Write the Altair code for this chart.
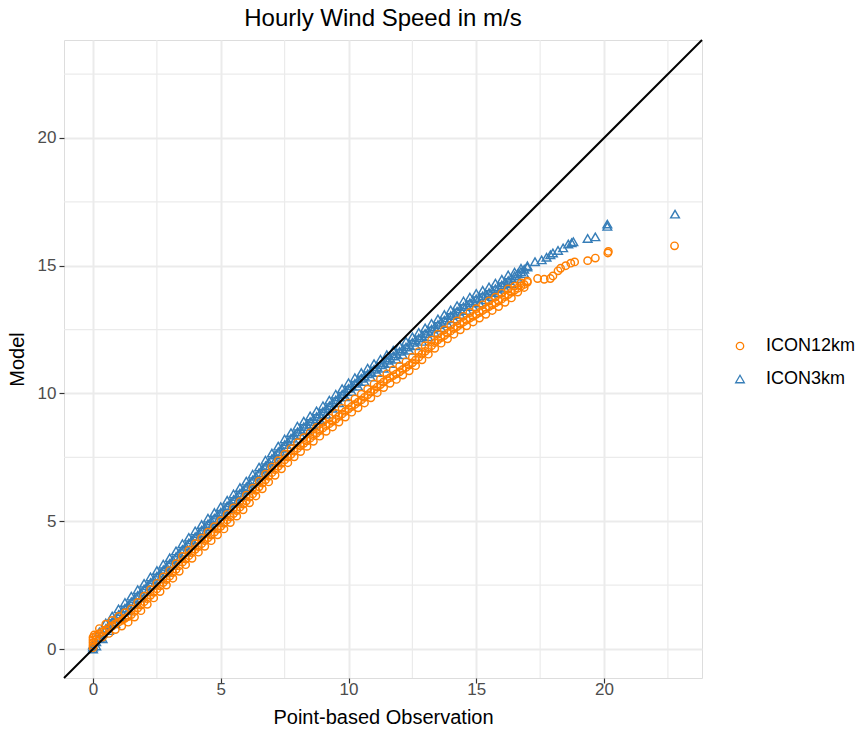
import altair as alt
import pandas as pd

# ---- data (quantile pairs) ----
series_names = ["ICON12km", "ICON3km"]

# observation grid of the dense part of the band (shared by both series)
obs_band = [0.125, 0.25, 0.375, 0.5, 0.625, 0.75, 0.875, 1.0,
            1.125, 1.25, 1.375, 1.5, 1.625, 1.75, 1.875, 2.0,
            2.125, 2.25, 2.375, 2.5, 2.625, 2.75, 2.875, 3.0,
            3.125, 3.25, 3.375, 3.5, 3.625, 3.75, 3.875, 4.0,
            4.125, 4.25, 4.375, 4.5, 4.625, 4.75, 4.875, 5.0,
            5.125, 5.25, 5.375, 5.5, 5.625, 5.75, 5.875, 6.0,
            6.125, 6.25, 6.375, 6.5, 6.625, 6.75, 6.875, 7.0,
            7.125, 7.25, 7.375, 7.5, 7.625, 7.75, 7.875, 8.0,
            8.125, 8.25, 8.375, 8.5, 8.625, 8.75, 8.875, 9.0,
            9.125, 9.25, 9.375, 9.5, 9.625, 9.75, 9.875, 10.0,
            10.125, 10.25, 10.375, 10.5, 10.625, 10.75, 10.875, 11.0,
            11.125, 11.25, 11.375, 11.5, 11.625, 11.75, 11.875, 12.0,
            12.125, 12.25, 12.375, 12.5, 12.625, 12.75, 12.875, 13.0,
            13.125, 13.25, 13.375, 13.5, 13.625, 13.75, 13.875, 14.0,
            14.125, 14.25, 14.375, 14.5, 14.625, 14.75, 14.875, 15.0,
            15.125, 15.25, 15.375, 15.5, 15.625, 15.75, 15.875, 16.0,
            16.125, 16.25, 16.375, 16.5, 16.625, 16.75, 16.875, 17.0]

# ICON12km (orange circles): band middle and band edges
m12_mid = [0.5, 0.6, 0.68, 0.75, 0.83, 0.9, 0.98, 1.05,
           1.12, 1.2, 1.27, 1.35, 1.47, 1.6, 1.72, 1.85,
           1.97, 2.1, 2.22, 2.35, 2.47, 2.6, 2.72, 2.85,
           2.99, 3.12, 3.26, 3.4, 3.52, 3.65, 3.77, 3.9,
           4.01, 4.12, 4.24, 4.35, 4.46, 4.57, 4.69, 4.8,
           4.92, 5.05, 5.17, 5.3, 5.42, 5.55, 5.67, 5.8,
           5.94, 6.07, 6.21, 6.35, 6.49, 6.62, 6.76, 6.9,
           7.02, 7.15, 7.27, 7.4, 7.51, 7.62, 7.74, 7.85,
           7.95, 8.05, 8.15, 8.25, 8.35, 8.45, 8.55, 8.65,
           8.74, 8.82, 8.91, 9.0, 9.1, 9.2, 9.3, 9.4,
           9.49, 9.57, 9.66, 9.75, 9.85, 9.95, 10.05, 10.15,
           10.25, 10.35, 10.45, 10.55, 10.62, 10.7, 10.77, 10.85,
           10.94, 11.02, 11.11, 11.2, 11.31, 11.42, 11.54, 11.65,
           11.76, 11.87, 11.99, 12.1, 12.19, 12.27, 12.36, 12.45,
           12.54, 12.62, 12.71, 12.8, 12.87, 12.95, 13.02, 13.1,
           13.17, 13.25, 13.32, 13.4, 13.47, 13.55, 13.62, 13.7,
           13.79, 13.87, 13.96, 14.05, 14.12, 14.2, 14.27, 14.35]
m12_edge = [0.36, 0.8, 0.47, 0.97, 0.61, 1.12, 0.76, 1.27,
            0.9, 1.42, 1.05, 1.57, 1.25, 1.82, 1.5, 2.07,
            1.75, 2.32, 2.0, 2.57, 2.25, 2.82, 2.5, 3.07,
            2.77, 3.34, 3.04, 3.62, 3.3, 3.87, 3.55, 4.12,
            3.79, 4.34, 4.02, 4.57, 4.24, 4.79, 4.47, 5.02,
            4.7, 5.27, 4.95, 5.52, 5.2, 5.77, 5.45, 6.02,
            5.72, 6.29, 5.99, 6.57, 6.27, 6.84, 6.54, 7.12,
            6.8, 7.37, 7.05, 7.62, 7.29, 7.84, 7.52, 8.07,
            7.73, 8.27, 7.93, 8.47, 8.13, 8.67, 8.33, 8.87,
            8.52, 9.04, 8.69, 9.22, 8.88, 9.42, 9.08, 9.62,
            9.27, 9.79, 9.44, 9.97, 9.63, 10.17, 9.83, 10.37,
            10.03, 10.57, 10.23, 10.77, 10.4, 10.92, 10.55, 11.07,
            10.72, 11.24, 10.89, 11.42, 11.09, 11.64, 11.32, 11.87,
            11.54, 12.09, 11.77, 12.32, 11.97, 12.49, 12.14, 12.67,
            12.32, 12.84, 12.49, 13.02, 12.65, 13.17, 12.8, 13.32,
            12.95, 13.47, 13.1, 13.62, 13.25, 13.77, 13.4, 13.92,
            13.57, 14.09, 13.74, 14.2, 13.97, 14.33, 14.15, 14.4]
# ICON12km zero-observation stack and upper tail
obs_12_extra = [0.0, 0.0, 0.0, 0.0, 0.0, 0.05,
                17.4, 17.66, 17.9, 18.0, 18.2, 18.3, 18.5, 18.7, 18.85, 19.36, 19.66, 20.15, 20.17, 22.76]
m12_extra = [0.05, 0.15, 0.25, 0.35, 0.45, 0.55,
             14.5, 14.47, 14.5, 14.6, 14.8, 14.9, 15.0, 15.1, 15.15, 15.2, 15.3, 15.5, 15.56, 15.78]

# ICON3km (blue triangles): band middle and band edges
m3_mid = [0.28, 0.45, 0.62, 0.8, 0.94, 1.07, 1.21, 1.35,
          1.47, 1.6, 1.72, 1.85, 1.97, 2.1, 2.22, 2.35,
          2.47, 2.6, 2.72, 2.85, 2.97, 3.1, 3.22, 3.35,
          3.49, 3.62, 3.76, 3.9, 4.02, 4.15, 4.27, 4.4,
          4.52, 4.65, 4.77, 4.9, 5.01, 5.12, 5.24, 5.35,
          5.47, 5.6, 5.72, 5.85, 5.97, 6.1, 6.22, 6.35,
          6.49, 6.62, 6.76, 6.9, 7.04, 7.17, 7.31, 7.45,
          7.59, 7.72, 7.86, 8.0, 8.12, 8.25, 8.37, 8.5,
          8.6, 8.7, 8.8, 8.9, 9.0, 9.1, 9.2, 9.3,
          9.41, 9.52, 9.64, 9.75, 9.86, 9.97, 10.09, 10.2,
          10.3, 10.4, 10.5, 10.6, 10.69, 10.77, 10.86, 10.95,
          11.04, 11.12, 11.21, 11.3, 11.39, 11.47, 11.56, 11.65,
          11.74, 11.82, 11.91, 12.0, 12.09, 12.17, 12.26, 12.35,
          12.44, 12.52, 12.61, 12.7, 12.79, 12.87, 12.96, 13.05,
          13.14, 13.22, 13.31, 13.4, 13.47, 13.55, 13.62, 13.7,
          13.76, 13.82, 13.89, 13.95, 14.02, 14.1, 14.17, 14.25,
          14.34, 14.42, 14.51, 14.6, 14.69, 14.77, 14.86, 14.95]
m3_edge = [0.12, 0.67, 0.4, 1.02, 0.72, 1.29, 0.99, 1.57,
           1.25, 1.82, 1.5, 2.07, 1.75, 2.32, 2.0, 2.57,
           2.25, 2.82, 2.5, 3.07, 2.75, 3.32, 3.0, 3.57,
           3.27, 3.84, 3.54, 4.12, 3.8, 4.37, 4.05, 4.62,
           4.3, 4.87, 4.55, 5.12, 4.79, 5.34, 5.02, 5.57,
           5.25, 5.82, 5.5, 6.07, 5.75, 6.32, 6.0, 6.57,
           6.27, 6.84, 6.54, 7.12, 6.82, 7.39, 7.09, 7.67,
           7.37, 7.94, 7.64, 8.22, 7.9, 8.47, 8.15, 8.72,
           8.38, 8.92, 8.58, 9.12, 8.78, 9.32, 8.98, 9.52,
           9.19, 9.74, 9.42, 9.97, 9.64, 10.19, 9.87, 10.42,
           10.08, 10.62, 10.28, 10.82, 10.47, 10.99, 10.64, 11.17,
           10.82, 11.34, 10.99, 11.52, 11.17, 11.69, 11.34, 11.87,
           11.52, 12.04, 11.69, 12.22, 11.87, 12.39, 12.04, 12.57,
           12.22, 12.74, 12.39, 12.92, 12.57, 13.09, 12.74, 13.27,
           12.92, 13.44, 13.09, 13.62, 13.25, 13.77, 13.4, 13.92,
           13.54, 14.04, 13.67, 14.17, 13.8, 14.32, 13.95, 14.47,
           14.12, 14.64, 14.29, 14.75, 14.5, 14.9, 14.7, 15.0]
# ICON3km zero-observation stack and upper tail
obs_3_extra = [0.0, 0.0, 0.0,
               17.3, 17.56, 17.75, 17.9, 18.0, 18.2, 18.4, 18.6, 18.73, 18.8, 19.36, 19.66, 20.13, 20.13, 22.78]
m3_extra = [0.0, 0.08, 0.16,
            15.16, 15.23, 15.33, 15.43, 15.5, 15.6, 15.7, 15.85, 15.9, 15.94, 16.07, 16.13, 16.54, 16.63, 17.02]

axis_ticks = [0, 5, 10, 15, 20]
minor_ticks = [2.5, 7.5, 12.5, 17.5, 22.5]
axis_domain = [-1.135, 23.835]
diag_line = [-1.135, 23.835]

# ---- tables ----
obs_3_all = obs_3_extra + obs_band + obs_band
mod_3_all = m3_extra + m3_mid + m3_edge
obs_12_all = obs_12_extra + obs_band + obs_band
mod_12_all = m12_extra + m12_mid + m12_edge
pts = pd.DataFrame({
    "obs": obs_3_all + obs_12_all,
    "model": mod_3_all + mod_12_all,
    "series": [series_names[1]] * len(obs_3_all) + [series_names[0]] * len(obs_12_all),
})
minor_df = pd.DataFrame({"v": minor_ticks})
diag_df = pd.DataFrame({"obs": diag_line, "model": diag_line})

FONT = "Liberation Sans"
xscale = alt.Scale(domain=axis_domain, nice=False, zero=False)
yscale = alt.Scale(domain=axis_domain, nice=False, zero=False)


def ax(title, lpad, tpad):
    return alt.Axis(title=title, values=axis_ticks, grid=True, gridColor="#EBEBEB", gridWidth=2,
                    domain=False, ticks=True, tickColor="#333333", tickWidth=1.2, tickSize=5,
                    labelFont=FONT, labelFontSize=17, labelColor="#4D4D4D", labelPadding=lpad,
                    titleFont=FONT, titleFontSize=20, titleColor="black", titleFontWeight="normal",
                    titlePadding=tpad, format="d")


xax = ax("Point-based Observation", -2, 10)
yax = ax("Model", 3, 10)

minor_v = alt.Chart(minor_df).mark_rule(color="#EBEBEB", strokeWidth=1.2).encode(
    x=alt.X("v:Q", scale=xscale, axis=xax))
minor_h = alt.Chart(minor_df).mark_rule(color="#EBEBEB", strokeWidth=1.2).encode(
    y=alt.Y("v:Q", scale=yscale, axis=yax))

leg = alt.Legend(title=None, orient="none", legendX=667, legendY=297,
                 labelFont=FONT, labelFontSize=18, labelColor="black",
                 labelOffset=17, rowPadding=15, symbolSize=60,
                 symbolStrokeWidth=1.3, symbolFillColor="transparent")

points = alt.Chart(pts).mark_point(filled=False, strokeWidth=1.45, opacity=1).encode(
    x=alt.X("obs:Q", scale=xscale, axis=xax),
    y=alt.Y("model:Q", scale=yscale, axis=yax),
    color=alt.Color("series:N", scale=alt.Scale(domain=series_names, range=["#FF7F00", "#377EB8"]),
                    legend=leg),
    shape=alt.Shape("series:N", scale=alt.Scale(domain=series_names, range=["circle", "triangle-up"]),
                    legend=leg),
    size=alt.Size("series:N", scale=alt.Scale(domain=series_names, range=[55, 75]), legend=None),
)

diag = alt.Chart(diag_df).mark_line(color="black", strokeWidth=2).encode(
    x=alt.X("obs:Q", scale=xscale, axis=xax),
    y=alt.Y("model:Q", scale=yscale, axis=yax),
)

chart = alt.layer(minor_v, minor_h, points, diag).properties(
    width=638, height=638,
    title=alt.TitleParams("Hourly Wind Speed in m/s", font=FONT, fontSize=24, fontWeight="normal",
                          color="black", anchor="middle", offset=5),
    autosize=alt.AutoSizeParams(type="none"),
    padding={"left": 64, "top": 40, "right": 162, "bottom": 53},
).configure_view(stroke="#333333", strokeWidth=1.2).configure(background="white")

chart.save("out.html", embed_options={"renderer": "svg", "actions": False})
